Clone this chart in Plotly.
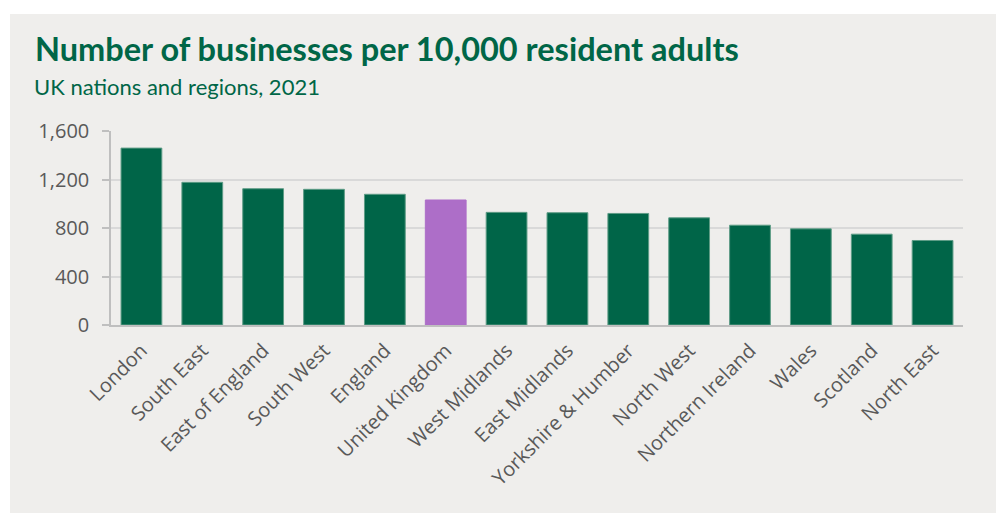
import plotly.graph_objects as go

# Businesses per 10,000 resident adults, UK nations and regions, 2021
regions = [
    "London", "South East", "East of England", "South West", "England",
    "United Kingdom", "West Midlands", "East Midlands", "Yorkshire & Humber",
    "North West", "Northern Ireland", "Wales", "Scotland", "North East",
]
businesses_per_10k = [1459, 1177, 1124, 1119, 1078, 1031, 929, 926, 920, 884, 823, 793, 749, 697]
y_tick_values = [0, 400, 800, 1200, 1600]
y_tick_labels = ["0", "400", "800", "1,200", "1,600"]

GREEN = "#006548"
PURPLE = "#AD6EC8"
PANEL = "#EFEEEC"
TITLE_GREEN = "#006647"
TEXT_GREY = "#595959"

bar_colors = [PURPLE if r == "United Kingdom" else GREEN for r in regions]
edge_colors = [PURPLE if r == "United Kingdom" else "#5E9C86" for r in regions]

W, H = 996, 513
ML, MR, MT, MB = 111, 33, 131, 188
PW, PH = W - ML - MR, H - MT - MB


def xp(px):
    return (px - ML) / PW


def yp(py):
    return (H - MB - py) / PH


fig = go.Figure(
    go.Bar(
        x=regions,
        y=businesses_per_10k,
        marker=dict(color=bar_colors, line=dict(color=edge_colors, width=1)),
        hoverinfo="x+y",
    )
)

fig.update_layout(
    width=W,
    height=H,
    margin=dict(l=ML, r=MR, t=MT, b=MB, pad=0),
    paper_bgcolor="white",
    plot_bgcolor=PANEL,
    bargap=0.33,
    showlegend=False,
    font=dict(family="Open Sans", color=TEXT_GREY),
    shapes=[
        dict(
            type="rect", xref="paper", yref="paper", layer="below",
            x0=xp(10), x1=xp(W + 5), y0=yp(H + 5), y1=yp(14),
            fillcolor=PANEL, line=dict(width=0),
        )
    ],
    annotations=[
        dict(
            text="<b>Number of businesses per 10,000 resident adults</b>",
            xref="paper", yref="paper", x=xp(33), y=yp(48),
            xanchor="left", yanchor="middle", showarrow=False,
            font=dict(family="Lato", size=32.5, color=TITLE_GREEN),
        ),
        dict(
            text="UK nations and regions, 2021",
            xref="paper", yref="paper", x=xp(32), y=yp(87),
            xanchor="left", yanchor="middle", showarrow=False,
            font=dict(family="Lato", size=22, color=TITLE_GREEN),
        ),
    ],
)

fig.update_xaxes(
    tickangle=-45,
    tickfont=dict(family="Open Sans", size=20, color=TEXT_GREY),
    ticklabelstandoff=4,
    showline=True, linecolor="#BFBFBF", linewidth=2,
    ticks="", showgrid=False,
)

fig.update_yaxes(
    range=[0, 1600],
    tickvals=y_tick_values,
    ticktext=y_tick_labels,
    tickfont=dict(family="Open Sans", size=20, color=TEXT_GREY),
    ticklabelstandoff=9,
    showline=True, linecolor="#BFBFBF", linewidth=1.5,
    ticks="outside", ticklen=7, tickcolor="#BFBFBF", tickwidth=1.5,
    showgrid=True, gridcolor="#D9D9D9", gridwidth=1.5,
    zeroline=False,
)

fig.write_html("out.html")
